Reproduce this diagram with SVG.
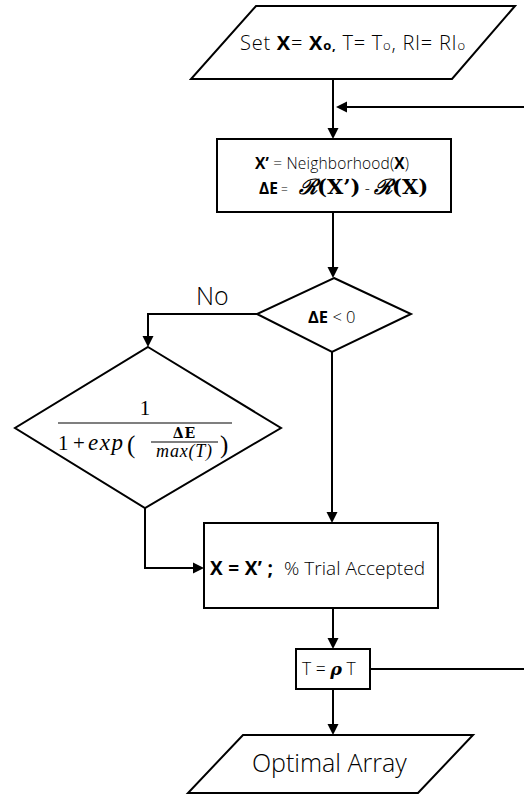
<svg xmlns="http://www.w3.org/2000/svg" width="524" height="796" viewBox="0 0 524 796">
  <style>
    .shape { fill: #fff; stroke: #000; stroke-width: 2; }
    .conn { fill: none; stroke: #000; stroke-width: 2; }
    .sans { font-family: "Open Sans", Roboto, "Liberation Sans", Arial, sans-serif; font-weight: 300; fill: #000; }
    .b { font-weight: 700; }
    .math { font-family: "Liberation Serif", "Times New Roman", serif; fill: #000; }
    .bx { font-family: "DejaVu Serif", serif; font-weight: 700; }
    .bar { stroke: #000; stroke-width: 1.2; }
  </style>
  <defs>
    <marker id="arrow" markerUnits="userSpaceOnUse" markerWidth="12" markerHeight="12" refX="8" refY="6" orient="auto">
      <path d="M0,0.5 L11,6 L0,11.5 z" fill="#000"/>
    </marker>
  </defs>
  <rect width="524" height="796" fill="#fff"/>

  <!-- connectors -->
  <g id="connectors">
    <path class="conn" d="M333,79 V136" marker-end="url(#arrow)"/>
    <path class="conn" d="M524,107 H339" marker-end="url(#arrow)"/>
    <path class="conn" d="M333,212 V275" marker-end="url(#arrow)"/>
    <path class="conn" d="M257,314 H148 V344" marker-end="url(#arrow)"/>
    <path class="conn" d="M332,352 V520" marker-end="url(#arrow)"/>
    <path class="conn" d="M145,508 V568 H201" marker-end="url(#arrow)"/>
    <path class="conn" d="M333,608 V646" marker-end="url(#arrow)"/>
    <path class="conn" d="M370,669 H524"/>
    <path class="conn" d="M333,689 V732" marker-end="url(#arrow)"/>
  </g>

  <!-- start: initial values -->
  <g id="start">
    <polygon class="shape" points="256,6 515,6 452,79 191,79"/>
    <text class="sans" x="240" y="50" font-size="20" textLength="225" lengthAdjust="spacing">Set <tspan class="b">X</tspan>= <tspan class="b">X</tspan><tspan class="b" font-size="13">o,</tspan> T= T<tspan font-size="13">o</tspan>, RI= RI<tspan font-size="13">o</tspan></text>
  </g>

  <!-- neighbour generation -->
  <g id="neighbor">
    <rect class="shape" x="217" y="139" width="234" height="73"/>
    <text class="sans" x="255" y="169" font-size="15.5" textLength="154" lengthAdjust="spacing"><tspan class="b">X’</tspan> = Neighborhood(<tspan class="b">X</tspan>)</text>
    <text x="259" y="194"><tspan class="sans b" font-size="15.5">ΔE</tspan><tspan class="sans" font-size="12"> = </tspan><tspan class="bx" x="299" font-style="italic" font-size="21">ℛ</tspan><tspan class="bx" font-size="21">(X’)</tspan><tspan class="sans" font-size="16"> - </tspan><tspan class="bx" font-style="italic" font-size="21">ℛ</tspan><tspan class="bx" font-size="21">(X)</tspan></text>
  </g>

  <!-- decision -->
  <g id="decision">
    <polygon class="shape" points="334,278 411,314 332,352 257,314"/>
    <text class="sans" x="308" y="323" font-size="16.5"><tspan class="b">ΔE</tspan> &lt; 0</text>
  </g>

  <text id="label-no" class="sans" x="196" y="305" font-size="25">No</text>

  <!-- acceptance probability -->
  <g id="probability">
    <polygon class="shape" points="148,347 281,428 145,508 15,428"/>
    <text class="math" x="145" y="415" font-size="21" text-anchor="middle">1</text>
    <line class="bar" x1="58" y1="423" x2="232" y2="423"/>
    <text class="math" x="58" y="450" font-size="21">1</text>
    <text class="math" x="79" y="450" font-size="21" text-anchor="middle">+</text>
    <text class="math" x="88" y="450" font-size="23" font-style="italic" letter-spacing="1.5">exp</text>
    <text class="math" x="127" y="453" font-size="25">(</text>
    <text class="bx" x="184.5" y="438" font-size="14" letter-spacing="1" text-anchor="middle">ΔE</text>
    <line class="bar" x1="151" y1="442" x2="218" y2="442"/>
    <text class="math" x="184.5" y="457" font-size="18" font-style="italic" letter-spacing="0.8" text-anchor="middle">max(T)</text>
    <text class="math" x="220" y="453" font-size="25">)</text>
  </g>

  <!-- accept -->
  <g id="accept">
    <rect class="shape" x="204" y="523" width="234" height="85"/>
    <text class="sans" y="575" font-size="19"><tspan class="b" x="210" textLength="63" lengthAdjust="spacing">X = X’ ;</tspan><tspan x="284" textLength="141" lengthAdjust="spacing">% Trial Accepted</tspan></text>
  </g>

  <!-- cooling -->
  <g id="cooling">
    <rect class="shape" x="296" y="649" width="74" height="40"/>
    <text class="sans" x="302" y="675" font-size="17.5">T = <tspan font-family="'DejaVu Serif', serif" font-weight="700" font-style="italic" font-size="17.5">ρ</tspan> T</text>
  </g>

  <!-- result -->
  <g id="result">
    <polygon class="shape" points="243,735 473,735 418,793 188,793"/>
    <text class="sans" x="252" y="772" font-size="25">Optimal Array</text>
  </g>
</svg>
